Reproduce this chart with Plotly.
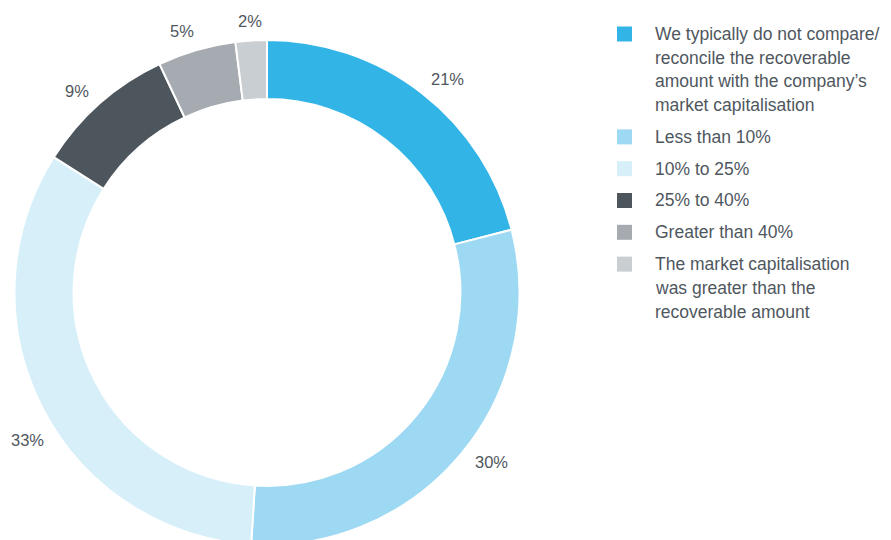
import math
import plotly.graph_objects as go

labels = [
    "We typically do not compare/<br>reconcile the recoverable<br>amount with the company’s<br>market capitalisation",
    "Less than 10%",
    "10% to 25%",
    "25% to 40%",
    "Greater than 40%",
    "The market capitalisation<br>was greater than the<br>recoverable amount",
]
values = [21, 30, 33, 9, 5, 2]
colors = ["#33B4E7", "#9DD9F3", "#D6EFF9", "#4D555D", "#A5ABB1", "#C9CED2"]
# small angular nudges (degrees) for the outside percentage labels (style)
label_nudge = [2.4, -2.6, -4.6, -2.0, -1.8, 0.0]

W, H = 891, 540
OFF = 8  # page body margin offset
cx, cy, r = 267 - OFF, 292.5 - OFF, 252.5
FONT = "Liberation Sans, Arial, Helvetica, sans-serif"
TXT = "#4F575E"

fig = go.Figure(go.Pie(
    labels=labels,
    values=values,
    sort=False,
    direction="clockwise",
    rotation=0,
    hole=0.766,
    marker=dict(colors=colors, line=dict(color="white", width=2)),
    textinfo="none",
    domain=dict(x=[(cx - r) / W, (cx + r) / W], y=[(H - cy - r) / H, (H - cy + r) / H]),
    hoverinfo="label+percent",
    showlegend=False,
))

annotations = []
# percentage labels outside the ring, near each slice's mid angle
total = sum(values)
cum = 0
for v, nd in zip(values, label_nudge):
    mid = (cum + v / 2) / total * 2 * math.pi + math.radians(nd)
    cum += v
    s, c = math.sin(mid), math.cos(mid)
    hw = 16 if v >= 10 else 11
    d = r + 11 + hw * abs(s) + 8 * abs(c)
    sx = cx + d * s
    sy = cy - d * c
    annotations.append(dict(
        x=sx / W, y=1 - sy / H, xref="paper", yref="paper",
        text=f"{v}%", showarrow=False, xanchor="center", yanchor="middle",
        font=dict(family=FONT, size=16.5, color=TXT),
    ))

# legend built from labels
shapes = []
y = 34 - OFF
line_h = 23.7
item_gap = 31.8
for lab, col in zip(labels, colors):
    lines = lab.split("<br>")
    shapes.append(dict(
        type="rect", xref="paper", yref="paper",
        x0=(617 - OFF) / W, x1=(632 - OFF) / W, y0=1 - (y - 7.5) / H, y1=1 - (y + 7.5) / H,
        fillcolor=col, line=dict(width=0),
    ))
    for i, ln in enumerate(lines):
        annotations.append(dict(
            x=(653 - OFF) / W, y=1 - (y + i * line_h) / H, xref="paper", yref="paper",
            text=ln, showarrow=False, xanchor="left", yanchor="middle",
            font=dict(family=FONT, size=17.5, color=TXT),
        ))
    y += (len(lines) - 1) * line_h + item_gap

fig.update_layout(
    width=W, height=H,
    margin=dict(l=0, r=0, t=0, b=0),
    paper_bgcolor="white",
    plot_bgcolor="white",
    showlegend=False,
    annotations=annotations,
    shapes=shapes,
)

fig.write_html("out.html")
